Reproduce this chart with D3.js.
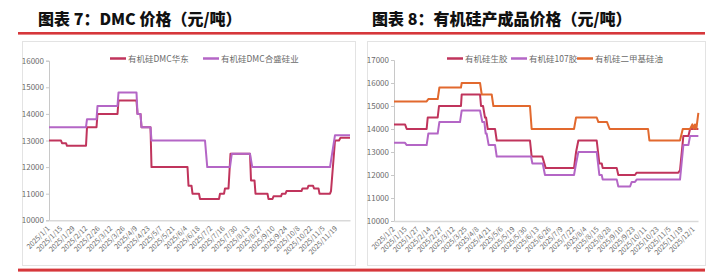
<!DOCTYPE html>
<meta charset="utf-8">
<html lang="zh">
<head>
<script src="https://d3js.org/d3.v7.min.js"></script>
<style>
body { margin: 0; background: #ffffff; }
svg text { font-family: "Noto Sans CJK SC", "DejaVu Sans", sans-serif; }
</style>
</head>
<body>
<div id="chart"></div>
<script>
// ---- data (x is measured in tick-label steps from the first label) ----
var dmcLabels = ["2025/1/1","2025/1/15","2025/1/29","2025/2/12","2025/2/26","2025/3/12","2025/3/26","2025/4/9",
  "2025/4/23","2025/5/7","2025/5/21","2025/6/4","2025/6/18","2025/7/2","2025/7/16","2025/7/30","2025/8/13",
  "2025/8/27","2025/9/10","2025/9/24","2025/10/8","2025/10/22","2025/11/5","2025/11/19"];
var dmcYTicks = [10000, 11000, 12000, 13000, 14000, 15000, 16000];

var dmcEastX = [0, 0.96, 1.04, 1.36, 1.44, 2.96, 3.04, 3.8, 3.88, 5.48, 5.56, 7.0, 7.08, 7.32, 7.4, 8.12, 8.2,
  11.08, 11.16, 11.4, 11.48, 12.0, 12.08, 13.6, 13.68, 14.0, 14.08, 14.36, 14.52, 16.08, 16.16, 16.44, 16.52,
  17.48, 17.56, 17.88, 17.96, 18.56, 18.64, 18.92, 19.0, 20.2, 20.28, 20.68, 20.76, 21.12, 21.2, 21.56, 21.64,
  22.48, 22.56, 22.88, 23.2, 23.32, 24.08];
var dmcEastY = [13000, 13000, 12900, 12900, 12800, 12800, 13500, 13500, 14000, 14000, 14500, 14500, 14000, 14000,
  13500, 13500, 12000, 12000, 11300, 11300, 11000, 11000, 10800, 10800, 11000, 11000, 11200, 11200, 12500, 12500,
  11500, 11500, 11000, 11000, 10800, 10800, 10900, 10900, 11000, 11000, 11100, 11100, 11200, 11200, 11300, 11300,
  11200, 11200, 11000, 11000, 11100, 13000, 13000, 13100, 13100];

var dmcHsX = [0, 2.96, 3.04, 3.8, 3.88, 5.48, 5.56, 7.0, 7.08, 7.32, 7.4, 8.12, 8.2, 12.48, 12.66, 14.48, 14.62,
  16.08, 16.26, 22.48, 22.88, 24.08];
var dmcHsY = [13500, 13500, 13800, 13800, 14300, 14300, 14800, 14800, 14000, 14000, 13500, 13500, 13000, 13000,
  12000, 12000, 12500, 12500, 12000, 12000, 13200, 13200];

var prodLabels = ["2025/1/2","2025/1/15","2025/1/27","2025/2/14","2025/2/27","2025/3/12","2025/3/25","2025/4/8",
  "2025/4/21","2025/5/6","2025/5/19","2025/5/30","2025/6/13","2025/6/26","2025/7/9","2025/7/22","2025/8/4",
  "2025/8/15","2025/8/28","2025/9/10","2025/9/23","2025/10/11","2025/10/23","2025/11/5","2025/11/19","2025/12/1"];
var prodYTicks = [10000, 11000, 12000, 13000, 14000, 15000, 16000, 17000];

var rubberX = [0, 0.92, 1.06, 2.72, 2.81, 3.64, 3.75, 5.58, 5.64, 7.17, 7.25, 7.42, 7.58, 7.67, 7.81, 8.42, 8.56,
  11.33, 11.47, 12.36, 12.64, 15.0, 15.17, 15.36, 16.89, 17.11, 17.31, 17.39, 18.56, 18.69, 20.08, 20.22, 23.69,
  23.83, 24.11, 24.53, 24.67, 25.36];
var rubberY = [14200, 14200, 14000, 14000, 14500, 14500, 15000, 15000, 15500, 15500, 15000, 15000, 14500, 14500,
  14000, 14000, 13500, 13500, 12800, 12800, 12300, 12300, 13000, 13500, 13500, 12500, 12500, 12300, 12300, 12000,
  12000, 12100, 12100, 12200, 13700, 13700, 14000, 14000];

var g107X = [0, 0.92, 1.06, 2.72, 2.86, 3.64, 3.78, 5.5, 5.64, 7.17, 7.36, 7.53, 7.64, 7.72, 7.89, 8.42, 8.56,
  11.42, 11.53, 12.39, 12.58, 15.0, 15.17, 15.36, 16.89, 17.11, 17.31, 17.39, 18.56, 18.69, 19.67, 19.81, 20.08,
  20.22, 23.83, 24.11, 24.53, 24.67, 25.36];
var g107Y = [13400, 13400, 13300, 13300, 13800, 13800, 14300, 14300, 14800, 14800, 14300, 14300, 13800, 13800,
  13300, 13300, 12800, 12800, 12500, 12500, 12000, 12000, 12500, 13000, 13000, 12000, 12000, 11800, 11800, 11500,
  11500, 11700, 11700, 11800, 11800, 13300, 13300, 13700, 13700];

var oilX = [0, 2.72, 2.86, 3.64, 3.78, 5.58, 5.64, 7.17, 7.31, 8.14, 8.28, 11.33, 11.47, 15.0, 15.17, 16.89, 17.03,
  17.75, 17.97, 21.17, 21.28, 23.83, 24.06, 24.67, 24.86, 24.97, 25.08, 25.19, 25.36];
var oilY = [15200, 15200, 15300, 15300, 15800, 15800, 16000, 16000, 15500, 15500, 15000, 15000, 14000, 14000,
  14500, 14500, 14300, 14300, 14000, 14000, 13500, 13500, 14000, 14000, 14200, 14000, 14200, 14000, 14700];

var colors = { crimson: "#C0345C", purple: "#B466C6", orange: "#E2692E" };

var svg = d3.select("#chart").append("svg")
  .attr("width", 712)
  .attr("height", 272)
  .style("background", "#ffffff");

function drawChart(o) {
  var g = svg.append("g");

  // title and red rules
  g.append("text")
    .attr("x", o.titleX).attr("y", 25)
    .style("font-size", "16px").style("font-weight", 900).style("fill", "#111")
    .text(o.title);
  g.append("rect").attr("x", o.ruleX0).attr("y", 32).attr("width", o.ruleX1 - o.ruleX0).attr("height", 2.6)
    .attr("fill", "#D6373B");
  g.append("rect").attr("x", o.ruleX0).attr("y", 268.6).attr("width", o.ruleX1 - o.ruleX0).attr("height", 3)
    .attr("fill", "#D6373B");

  // frame
  g.append("rect").attr("x", o.boxX0 + 0.5).attr("y", 41.5).attr("width", o.boxX1 - o.boxX0).attr("height", 224)
    .attr("fill", "none").attr("stroke", "#e3e3e3");

  var x = d3.scaleLinear().domain([0, o.xMax]).range([o.plotX0, o.plotX1]);
  var y = d3.scaleLinear().domain([o.yTicks[0], o.yTicks[o.yTicks.length - 1]]).range([o.plotY1, o.plotY0]);

  // y axis
  var ya = g.append("g").attr("transform", "translate(" + o.plotX0 + ",0)")
    .call(d3.axisLeft(y).tickValues(o.yTicks).tickSize(3).tickPadding(2).tickFormat(d3.format("d")));
  ya.select(".domain").attr("stroke", "#c8c8c8");
  ya.selectAll(".tick line").attr("stroke", "#c8c8c8");
  ya.selectAll("text").style("font-size", "8px").style("fill", "#6b6b6b");

  // x axis
  var xa = g.append("g").attr("transform", "translate(0," + o.plotY1 + ")")
    .call(d3.axisBottom(x).tickValues(d3.range(o.labels.length)).tickSize(0)
      .tickFormat(function (i) { return o.labels[i]; }));
  xa.select(".domain").attr("stroke", "#d9d9d9").attr("stroke-width", 1.5);
  xa.selectAll("text")
    .attr("x", 0).attr("y", 0).attr("dy", "0.35em")
    .attr("text-anchor", "end")
    .attr("transform", "translate(-1,7) rotate(-45)")
    .style("font-size", "7px").style("fill", "#6b6b6b");

  // lines
  var line = d3.line()
    .x(function (d) { return x(d[0]); })
    .y(function (d) { return y(d[1]); });

  o.series.forEach(function (s) {
    var pts = d3.zip(s.xs, s.ys);
    g.append("path")
      .datum(pts)
      .attr("d", line)
      .attr("fill", "none")
      .attr("stroke", s.color)
      .attr("stroke-width", 2)
      .attr("stroke-linejoin", "round");
  });

  // legend
  o.series.forEach(function (s, i) {
    var lx = o.legendX[i];
    g.append("line").attr("x1", lx).attr("x2", lx + 16).attr("y1", 58.5).attr("y2", 58.5)
      .attr("stroke", s.color).attr("stroke-width", 2.5);
    g.append("text").attr("x", lx + 18).attr("y", 61.5)
      .style("font-size", "8.5px").style("fill", "#6b6b6b")
      .text(s.name);
  });
}

drawChart({
  title: "图表 7：DMC 价格（元/吨）",
  titleX: 38, ruleX0: 18, ruleX1: 360,
  boxX0: 22, boxX1: 355,
  plotX0: 49, plotX1: 350, plotY0: 60.7, plotY1: 220.3,
  xMax: 24.08, yTicks: dmcYTicks, labels: dmcLabels,
  legendX: [110, 203],
  series: [
    { name: "有机硅DMC华东", color: colors.crimson, xs: dmcEastX, ys: dmcEastY },
    { name: "有机硅DMC合盛硅业", color: colors.purple, xs: dmcHsX, ys: dmcHsY }
  ]
});

drawChart({
  title: "图表 8：有机硅产成品价格（元/吨）",
  titleX: 372, ruleX0: 360, ruleX1: 705,
  boxX0: 367, boxX1: 705,
  plotX0: 394, plotX1: 698, plotY0: 60, plotY1: 221,
  xMax: 25.33, yTicks: prodYTicks, labels: prodLabels,
  legendX: [447, 511, 577],
  series: [
    { name: "有机硅生胶", color: colors.crimson, xs: rubberX, ys: rubberY },
    { name: "有机硅107胶", color: colors.purple, xs: g107X, ys: g107Y },
    { name: "有机硅二甲基硅油", color: colors.orange, xs: oilX, ys: oilY }
  ]
});
</script>
</body>
</html>
